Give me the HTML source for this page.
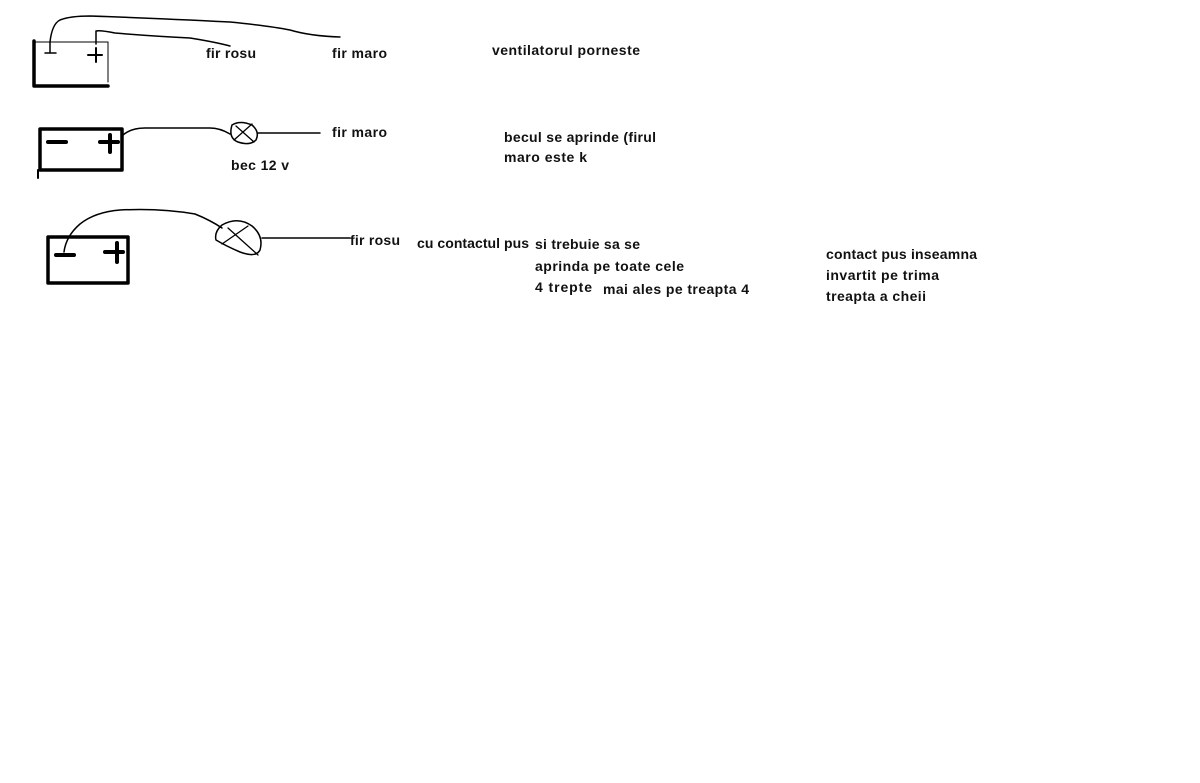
<!DOCTYPE html>
<html><head><meta charset="utf-8"><style>
html,body{margin:0;padding:0;background:#fff;}
svg{display:block;}
text{font-family:"Liberation Sans",sans-serif;font-weight:bold;font-size:14px;fill:#111;}
</style></head><body>
<svg width="1200" height="783" viewBox="0 0 1200 783" xmlns="http://www.w3.org/2000/svg">
<g fill="none" stroke="#000" stroke-linecap="round" stroke-linejoin="round">
<path d="M34 41 V86 H108" stroke-width="3.5"/>
<path d="M34 42 H108 V82" stroke-width="1"/>
<path d="M45 53 H56 M50 52 V42" stroke-width="1.5"/>
<path d="M88 55 H102 M96 48 V62" stroke-width="2"/>
<path d="M50 42 Q52 24 60 20 Q70 16 90 16 Q150 18 230 22 Q270 26 290 30 Q310 36 340 37" stroke-width="1.5"/>
<path d="M96 44 V31 Q100 30 115 33 Q150 36 190 38 Q215 42 230 46" stroke-width="1.5"/>
<rect x="40" y="129" width="82" height="41" stroke-width="3.5"/>
<path d="M38 170 V178" stroke-width="2"/>
<path d="M48 142 H66" stroke-width="4"/>
<path d="M100 142 H118 M110 135 V152" stroke-width="4"/>
<path d="M122 136 Q130 128 145 128 H210 Q220 128 230 134" stroke-width="1.5"/>
<path d="M232 125 Q240 120 252 125 Q260 132 256 140 Q250 146 238 142 Q228 138 232 125 Z" stroke-width="1.5"/>
<path d="M236 126 L254 142 M234 140 L252 124" stroke-width="1.3"/>
<path d="M258 133 H320" stroke-width="1.5"/>
<rect x="48" y="237" width="80" height="46" stroke-width="3.5"/>
<path d="M56 255 H74" stroke-width="4"/>
<path d="M105 252 H123 M117 243 V262" stroke-width="4"/>
<path d="M64 252 Q66 236 80 224 Q95 212 120 210 Q160 208 195 214 Q210 220 222 228" stroke-width="1.5"/>
<path d="M222 225 Q238 216 252 226 Q264 236 260 250 Q256 258 240 252 Q226 246 216 240 Q214 232 222 225 Z" stroke-width="1.5"/>
<path d="M228 228 L258 255 M222 244 L248 226" stroke-width="1.3"/>
<path d="M262 238 H350" stroke-width="1.5"/>
</g>
<g>
<text x="206" y="58" textLength="50" lengthAdjust="spacing">fir rosu</text>
<text x="332" y="58" textLength="55" lengthAdjust="spacing">fir maro</text>
<text x="492" y="55" textLength="148" lengthAdjust="spacing">ventilatorul porneste</text>
<text x="332" y="137" textLength="55" lengthAdjust="spacing">fir maro</text>
<text x="231" y="170" textLength="58" lengthAdjust="spacing">bec 12 v</text>
<text x="504" y="142" textLength="152" lengthAdjust="spacing">becul se aprinde (firul</text>
<text x="504" y="162" textLength="83" lengthAdjust="spacing">maro este k</text>
<text x="350" y="245" textLength="50" lengthAdjust="spacing">fir rosu</text>
<text x="417" y="248" textLength="112" lengthAdjust="spacing">cu contactul pus</text>
<text x="535" y="249" textLength="105" lengthAdjust="spacing">si trebuie sa se</text>
<text x="535" y="271" textLength="149" lengthAdjust="spacing">aprinda pe toate cele</text>
<text x="535" y="292" textLength="57" lengthAdjust="spacing">4 trepte</text>
<text x="603" y="294" textLength="146" lengthAdjust="spacing">mai ales pe treapta 4</text>
<text x="826" y="259" textLength="151" lengthAdjust="spacing">contact pus inseamna</text>
<text x="826" y="280" textLength="113" lengthAdjust="spacing">invartit pe trima</text>
<text x="826" y="301" textLength="100" lengthAdjust="spacing">treapta a cheii</text>
</g>
</svg>
</body></html>
